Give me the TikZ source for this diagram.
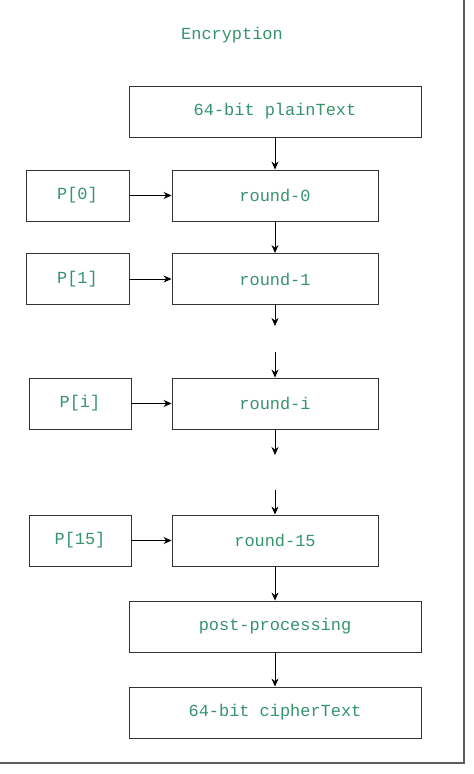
\documentclass[tikz,border=0pt]{standalone}
\usepackage{fontspec}
\setmonofont{Liberation Mono}
\usetikzlibrary{arrows.meta}
\definecolor{txtgreen}{HTML}{35936E}
\definecolor{linegray}{HTML}{333333}
\begin{document}
\begin{tikzpicture}[x=1bp,y=-1bp,
  box/.style={draw=linegray,line width=0.9bp,rectangle,inner sep=0pt,
    font=\ttfamily\fontsize{17}{20}\selectfont,text=txtgreen},
  conn/.style={draw=black,line width=0.8bp,-{Stealth[length=8bp,width=7bp]}}]
\useasboundingbox (0,0) rectangle (474,774);
\fill[white] (0,0) rectangle (474,774);
% outer frame
\draw[line width=1.2bp,draw=linegray!80] (464,0) -- (464,763) -- (0,763);
\node[font=\ttfamily\fontsize{17}{20}\selectfont,text=txtgreen] (title) at (232,35) {Encryption};
\node[box,minimum width=292bp,minimum height=51bp] (plain) at (275,111.5) {64-bit plainText};
\node[box,minimum width=206bp,minimum height=51bp] (r0) at (275,195.5) {round-0};
\node[box,minimum width=103bp,minimum height=51bp] (p0) at (77.5,195.5) {P[0]};
\node[box,minimum width=206bp,minimum height=51bp] (r1) at (275,279) {round-1};
\node[box,minimum width=103bp,minimum height=51bp] (p1) at (77.5,279) {P[1]};
\node[box,minimum width=206bp,minimum height=51bp] (ri) at (275,403.5) {round-i};
\node[box,minimum width=102bp,minimum height=51bp] (pi) at (80,403.5) {P[i]};
\node[box,minimum width=206bp,minimum height=51bp] (r15) at (275,540.5) {round-15};
\node[box,minimum width=102bp,minimum height=51bp] (p15) at (80,540.5) {P[15]};
\node[box,minimum width=292bp,minimum height=51bp] (post) at (275,626.5) {post-processing};
\node[box,minimum width=292bp,minimum height=51bp] (cipher) at (275,712.5) {64-bit cipherText};
\coordinate (e1) at (275,326);
\coordinate (s2) at (275,352);
\coordinate (e3) at (275,455);
\coordinate (s4) at (275,490);
\draw[conn] (plain) -- (r0);
\draw[conn] (r0) -- (r1);
\draw[conn] (p0) -- (r0);
\draw[conn] (p1) -- (r1);
\draw[conn] (r1.south) -- (e1);
\draw[conn] (s2) -- (ri.north);
\draw[conn] (pi) -- (ri);
\draw[conn] (ri.south) -- (e3);
\draw[conn] (s4) -- (r15.north);
\draw[conn] (p15) -- (r15);
\draw[conn] (r15) -- (post);
\draw[conn] (post) -- (cipher);
\end{tikzpicture}
\end{document}
